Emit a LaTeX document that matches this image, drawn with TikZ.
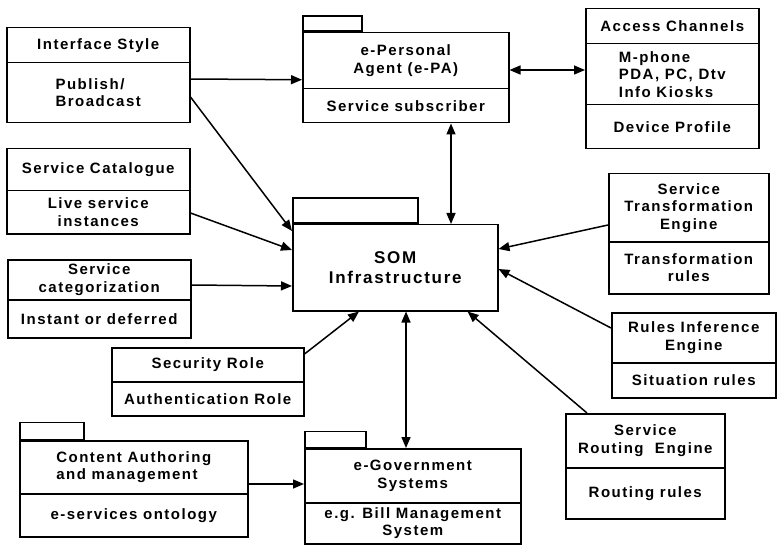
\documentclass[tikz,border=0pt]{standalone}
\usepackage{fontspec}
\setmainfont{Liberation Sans}[LetterSpace=10]
\usetikzlibrary{arrows.meta}

\begin{document}
\begin{tikzpicture}[x=1pt,y=-1pt,
    every node/.style={font=\fontsize{15}{17.5}\selectfont\bfseries},
    part/.style={draw, line width=1.5pt, inner sep=2pt, anchor=north west, align=center},
    tab/.style={draw, line width=1.5pt, inner sep=0pt, anchor=south west},
    link/.style={line width=1.5pt, -{Triangle[length=11pt,width=9pt]}},
    both/.style={line width=1.5pt, {Triangle[length=11pt,width=9pt]}-{Triangle[length=11pt,width=9pt]}}]

  \useasboundingbox (0,0) rectangle (778,545);

  % left column
  \node[part, minimum width=183, minimum height=35] (iface) at (6,27) {Interface Style};
  \node[part, minimum width=183, minimum height=60, align=left] (iface-b) at (6,62) {Publish/\\Broadcast};

  \node[part, minimum width=183, minimum height=42] (cat) at (6,148) {Service Catalogue};
  \node[part, minimum width=183, minimum height=43] (cat-b) at (6,190) {Live service\\instances};

  \node[part, minimum width=183, minimum height=40] (categ) at (7,259) {Service\\categorization};
  \node[part, minimum width=183, minimum height=38] (categ-b) at (7,299) {Instant or deferred};

  \node[part, minimum width=192, minimum height=34] (sec) at (111,347) {Security Role};
  \node[part, minimum width=192, minimum height=34] (sec-b) at (111,381) {Authentication Role};

  \node[part, minimum width=228, minimum height=53, align=left] (content) at (19,440) {Content Authoring\\and management};
  \node[part, minimum width=228, minimum height=43] (content-b) at (19,493) {e-services ontology};
  \node[tab, minimum width=64, minimum height=17] (content-t) at (content.north west) {};

  % middle
  \node[part, minimum width=206, minimum height=56] (epa) at (302,32) {e-Personal\\Agent (e-PA)};
  \node[part, minimum width=206, minimum height=34] (epa-b) at (302,88) {Service subscriber};
  \node[tab, minimum width=59, minimum height=15] (epa-t) at (epa.north west) {};

  \node[part, minimum width=205, minimum height=86,
        font=\fontsize{17}{20}\selectfont\bfseries] (som) at (292,224) {SOM\\Infrastructure};
  \node[tab, minimum width=125, minimum height=25] (som-t) at (som.north west) {};

  \node[part, minimum width=216, minimum height=54] (egov) at (304,448) {e-Government\\Systems};
  \node[part, minimum width=216, minimum height=41] (egov-b) at (304,502) {e.g. Bill Management\\System};
  \node[tab, minimum width=61, minimum height=16] (egov-t) at (egov.north west) {};

  % right column
  \node[part, minimum width=173, minimum height=35] (access) at (585,8) {Access Channels};
  \node[part, minimum width=173, minimum height=61, align=left] (access-b) at (585,43) {M-phone\\PDA, PC, Dtv\\Info Kiosks};
  \node[part, minimum width=173, minimum height=44] (access-p) at (585,104) {Device Profile};

  \node[part, minimum width=160, minimum height=68] (trans) at (608,173) {Service\\Transformation\\Engine};
  \node[part, minimum width=160, minimum height=52] (trans-b) at (608,241) {Transformation\\rules};

  \node[part, minimum width=164, minimum height=50] (infer) at (611,312) {Rules Inference\\Engine};
  \node[part, minimum width=164, minimum height=35] (infer-b) at (611,362) {Situation rules};

  \node[part, minimum width=159, minimum height=54] (route) at (565,413) {Service\\Routing\ \ Engine};
  \node[part, minimum width=159, minimum height=51] (route-b) at (565,467) {Routing rules};

  % connectors
  \draw[link] ([yshift=-17]iface-b.north east) -- ([yshift=-19]epa.west);
  \draw[link] ([yshift=-35]iface-b.north east) -- ([yshift=-7]som.north west);
  \draw[link] ([yshift=-23]cat-b.north east) -- ([yshift=-26]som.north west);
  \draw[link] ([yshift=-26]categ.north east) -- ([yshift=-62]som.north west);
  \draw[link] ([yshift=-7]sec.north east) -- ([xshift=67]som.south west);
  \draw[link] ([yshift=-44]content.north east) -- ([yshift=-36]egov.north west);
  \draw[both] ([xshift=114]som.south west) -- ([xshift=102]egov.north west);
  \draw[both] ([xshift=149]epa-b.south west) -- ([xshift=159]som.north west);
  \draw[both] ([yshift=-38]epa.north east) -- ([yshift=-27]access-b.north west);
  \draw[link] ([yshift=-52]trans.north west) -- ([yshift=-25]som.north east);
  \draw[link] ([yshift=-16]infer.north west) -- ([yshift=-45]som.north east);
  \draw[link] ([xshift=22]route.north west) -- ([xshift=-31]som.south east);

\end{tikzpicture}
\end{document}
